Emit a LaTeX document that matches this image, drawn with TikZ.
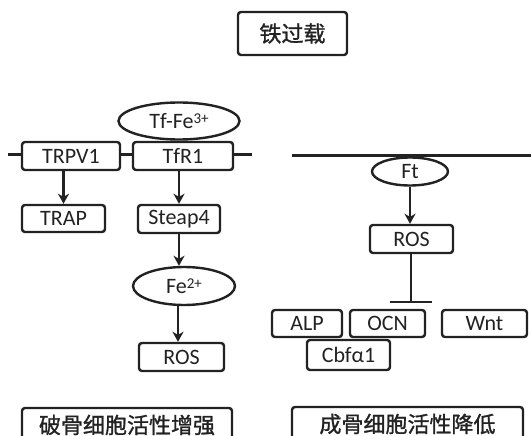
\documentclass[tikz,border=0pt]{standalone}
\usepackage{fontspec}
\setmainfont{Carlito}
\newfontfamily\cjk[FakeBold=1.2]{Noto Sans CJK SC}
\usetikzlibrary{shapes.geometric,arrows.meta}
\definecolor{ink}{HTML}{222222}
\begin{document}
\begin{tikzpicture}[x=1pt,y=-1pt,
  every node/.style={text=ink,inner sep=0pt,font=\fontsize{22}{24}\selectfont},
  rbox/.style={draw=ink,line width=2.4pt,rounded corners=3pt,fill=white},
  ell/.style={draw=ink,line width=2.4pt,ellipse,fill=white},
  cbox/.style={rbox,font=\cjk\fontsize{22}{24}\selectfont},
  arr/.style={draw=ink,line width=2.4pt,-{Stealth[length=10pt,width=11pt,inset=3pt]}},
  mem/.style={draw=ink,line width=3pt}]
\useasboundingbox (0,0) rectangle (531,436);
\clip (0,0) rectangle (531,436);
% title
\node[cbox,minimum width=109pt,minimum height=43pt] (title) at (292.5,33.5) {铁过载};
% membranes
\coordinate (mLa) at (8,155);
\coordinate (mLb) at (252,155);
\coordinate (mRa) at (292,156);
\coordinate (mRb) at (535,156);
\draw[mem] (mLa) -- (mLb);
\draw[mem] (mRa) -- (mRb);
% left
\node[rbox,minimum width=98pt,minimum height=28pt] (trpv) at (71,156) {TRPV1};
\node[rbox,minimum width=100pt,minimum height=28pt] (tfr) at (183,156) {TfR1};
\node[ell,minimum width=121pt,minimum height=37pt] (tffe) at (179,121) {Tf-Fe\raisebox{0.45ex}{\fontsize{15}{16}\selectfont 3+}};
\node[rbox,minimum width=83pt,minimum height=27pt] (trap) at (63.5,218.5) {TRAP};
\node[rbox,minimum width=82pt,minimum height=28pt] (steap) at (179,219) {Steap4};
\node[ell,minimum width=102pt,minimum height=38pt] (fe) at (184,286) {Fe\raisebox{0.45ex}{\fontsize{15}{16}\selectfont 2+}};
\node[rbox,minimum width=85pt,minimum height=28pt] (rosl) at (181.5,357) {ROS};
\coordinate (feaxis) at (178,300);
\draw[arr] (trpv.south -| trap.north) -- (trap.north);
\draw[arr] (tfr.south -| steap.north) -- (steap.north);
\draw[arr] (steap.south) -- (steap.south |- fe.north);
\draw[arr] (fe.south -| feaxis) -- (feaxis |- rosl.north);
% right
\node[ell,minimum width=76pt,minimum height=28pt] (ft) at (410,171.5) {Ft};
\node[rbox,minimum width=83pt,minimum height=28pt] (rosr) at (411.5,239) {ROS};
\node[rbox,minimum width=70pt,minimum height=27pt] (alp) at (307,323.5) {ALP};
\node[rbox,minimum width=75pt,minimum height=27pt] (ocn) at (387.5,323.5) {OCN};
\node[rbox,minimum width=85pt,minimum height=27pt] (wnt) at (484.5,323.5) {Wnt};
\node[rbox,minimum width=83pt,minimum height=30pt] (cbf) at (348.5,355) {Cbfα1};
\draw[arr] (ft.south) -- (ft.south |- rosr.north);
\coordinate (bar) at (411,302);
\coordinate (barL) at (390,302);
\coordinate (barR) at (432,302);
\draw[draw=ink,line width=2.4pt] (rosr.south -| bar) -- (bar);
\draw[draw=ink,line width=2.6pt] (barL) -- (barR);
% bottom
\node[cbox,minimum width=210pt,minimum height=34pt] (osteoclast) at (127,425) {破骨细胞活性增强};
\node[cbox,minimum width=231pt,minimum height=34pt] (osteoblast) at (407.5,424) {成骨细胞活性降低};
\end{tikzpicture}
\end{document}
